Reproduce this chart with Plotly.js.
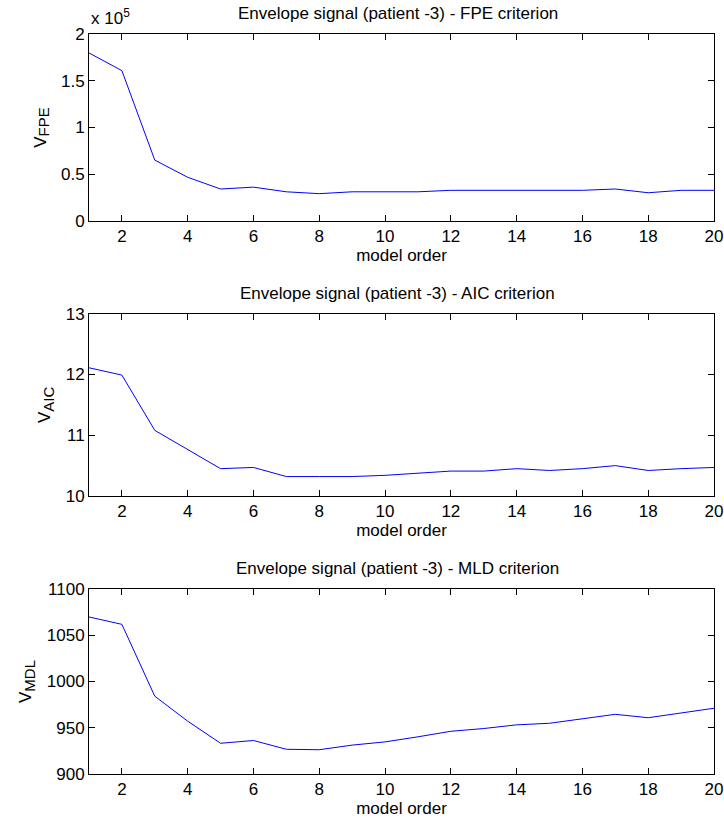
<!DOCTYPE html>
<html>
<head>
<meta charset="utf-8">
<script src="https://cdn.plot.ly/plotly-3.0.1.min.js"></script>
<style>html,body{margin:0;padding:0;background:#fff;}#chart{width:724px;height:828px;}</style>
</head>
<body>
<div id="chart"></div>
<script>
// Model orders
const modelOrder = [1,2,3,4,5,6,7,8,9,10,11,12,13,14,15,16,17,18,19,20];
// FPE criterion values (actual units, chart shows x 10^5)
const vFPE = [180000,161000,65000,46600,34000,36000,31000,29000,31000,31000,31000,32600,32600,32600,32600,32600,34000,30000,32600,32600];
// AIC criterion values
const vAIC = [12.11,11.99,11.08,10.77,10.45,10.47,10.32,10.32,10.32,10.34,10.37,10.41,10.41,10.45,10.42,10.45,10.50,10.42,10.45,10.47];
// MDL criterion values
const vMDL = [1070,1062,984,957,933,936,926.5,926,931,934.5,940,946,949,953,954.7,959.3,964.4,960.7,965.5,971];

const titles = [
  "Envelope signal (patient -3) - FPE criterion",
  "Envelope signal (patient -3) - AIC criterion",
  "Envelope signal (patient -3) - MLD criterion"
];
const ySymbol = "V";
const ySubs = ["FPE", "AIC", "MDL"];
const xLabel = "model order";
const xTicks = [2,4,6,8,10,12,14,16,18,20];
const fpeTickVals = [0,50000,100000,150000,200000];
const fpeTickText = ["0","0.5","1","1.5","2"];
const aicTickVals = [10,11,12,13];
const mdlTickVals = [900,950,1000,1050,1100];
const fpeExponent = "x 10<sup>5</sup>";

const FONT = {family: "Liberation Sans, Arial, sans-serif", size: 17, color: "#000"};
const W = 724, H = 828;
const xDom = [89/W, 714/W];
const boxes = [[34.3,220.7],[313.7,496],[589.3,773.7]];
const yDoms = boxes.map(b => [1 - b[1]/H, 1 - b[0]/H]);

function xAxis(i){
  return {
    domain: xDom, range: [1,20], anchor: i===0?'y':'y'+(i+1),
    tickvals: xTicks, ticks: 'inside', ticklen: 6, tickcolor: '#000',
    showline: true, linecolor: '#000', linewidth: 1, mirror: 'ticks',
    showgrid: false, zeroline: false, tickfont: FONT,
    title: {text: xLabel, font: FONT, standoff: 3}
  };
}
function yAxis(i, range, tv, tt){
  const ax = {
    domain: yDoms[i], range: range, anchor: i===0?'x':'x'+(i+1),
    tickvals: tv, ticks: 'inside', ticklen: 6, tickcolor: '#000',
    showline: true, linecolor: '#000', linewidth: 1, mirror: 'ticks',
    showgrid: false, zeroline: false, tickfont: FONT,
    title: {text: ySymbol + '<sub><span style="font-size:15px">' + ySubs[i] + '</span></sub>', font: FONT, standoff: 10}
  };
  if (tt) ax.ticktext = tt;
  return ax;
}

const series = [vFPE, vAIC, vMDL];
const traces = series.map((v,i) => ({
  x: modelOrder, y: v, type: 'scatter', mode: 'lines',
  line: {color: '#0000ff', width: 1},
  xaxis: i===0?'x':'x'+(i+1), yaxis: i===0?'y':'y'+(i+1),
  showlegend: false, hoverinfo: 'skip'
}));

const annotations = titles.map((t,i) => ({
  text: t, xref: 'paper', yref: 'paper', x: (xDom[0]+xDom[1])/2 - 4/W,
  y: yDoms[i][1], yshift: 9, xanchor: 'center', yanchor: 'bottom',
  showarrow: false, font: FONT
}));
annotations.push({
  text: fpeExponent, xref: 'paper', yref: 'paper', x: xDom[0], y: yDoms[0][1],
  xanchor: 'left', yanchor: 'bottom', yshift: 4, showarrow: false, font: FONT
});

const layout = {
  width: W, height: H, margin: {l:0, r:0, t:0, b:0},
  paper_bgcolor: '#fff', plot_bgcolor: '#fff', font: FONT,
  xaxis: xAxis(0), xaxis2: xAxis(1), xaxis3: xAxis(2),
  yaxis: yAxis(0, [0,200000], fpeTickVals, fpeTickText),
  yaxis2: yAxis(1, [10,13], aicTickVals),
  yaxis3: yAxis(2, [900,1100], mdlTickVals),
  annotations: annotations
};

Plotly.newPlot('chart', traces, layout, {staticPlot: true});
</script>
</body>
</html>
